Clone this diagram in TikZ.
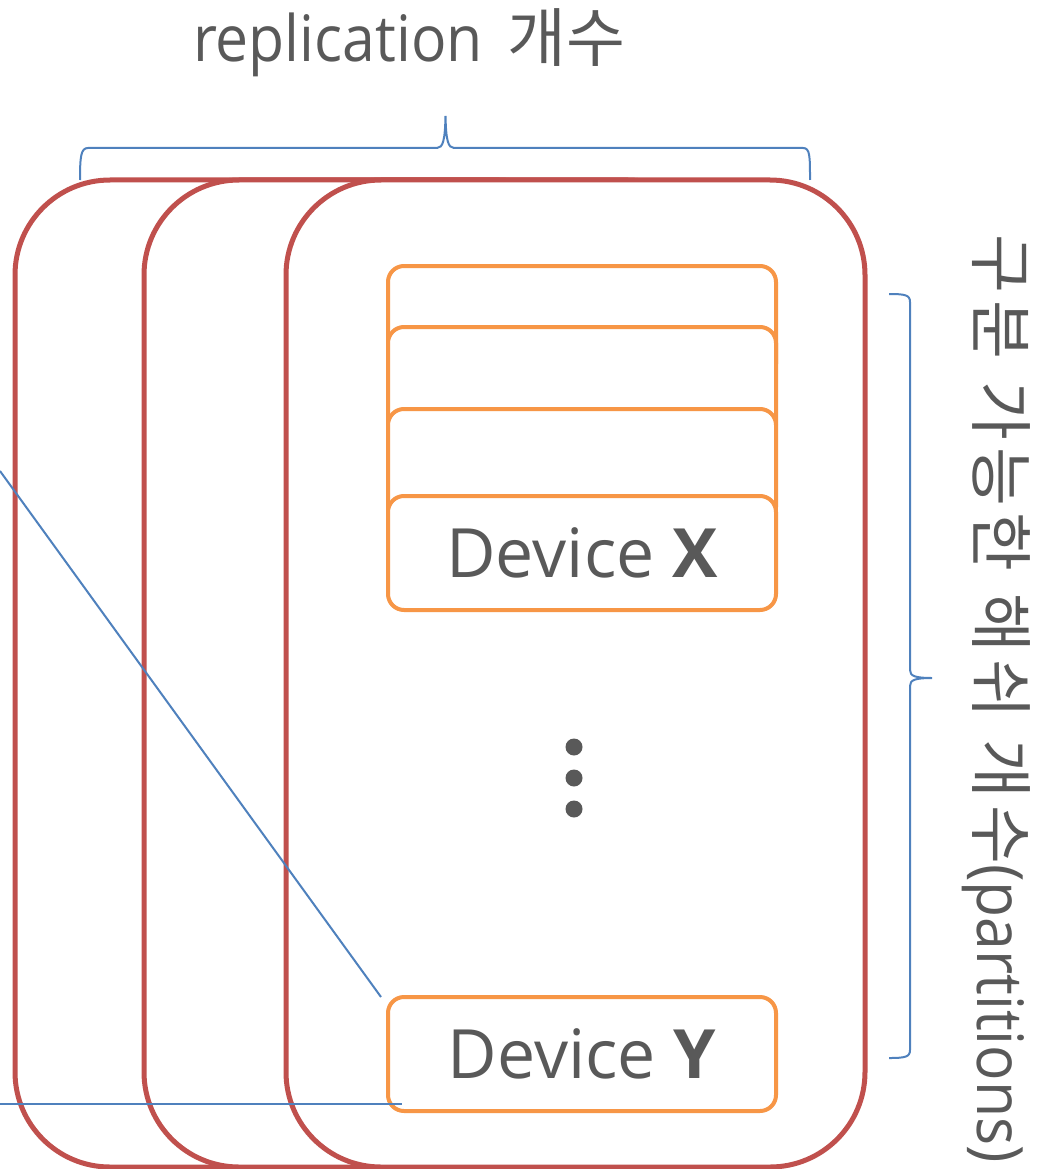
\documentclass[tikz,border=0pt]{standalone}
\usepackage{fontspec}
\setmainfont{Open Sans}
\newfontfamily\narrowsans{Open Sans}[FakeStretch=0.92]
\newfontfamily\kr{Noto Sans CJK KR}
\newfontfamily\krwide{Noto Sans CJK KR}[LetterSpace=11]
\definecolor{repred}{HTML}{C0504D}
\definecolor{devorange}{HTML}{F79646}
\definecolor{linkblue}{HTML}{4F81BD}
\definecolor{labelgray}{HTML}{595959}
\tikzset{
  replica/.style={draw=repred, line width=5pt, fill=white, rounded corners=95pt,
    minimum width=579pt, minimum height=987pt, inner sep=0pt, outer sep=0pt,
    anchor=north west},
  devbox/.style={draw=devorange, line width=4pt, fill=white, rounded corners=16pt,
    minimum width=388pt, minimum height=114pt, inner sep=0pt, outer sep=0pt,
    anchor=north west, text=labelgray, font=\fontsize{68}{80}\selectfont},
  brace/.style={draw=linkblue, line width=2pt},
  link/.style={draw=linkblue, line width=2pt},
  vdot/.style={circle, fill=labelgray, minimum size=17pt, inner sep=0pt},
  caption/.style={text=labelgray, font=\fontsize{64}{72}\selectfont\narrowsans, inner sep=0pt}
}
\begin{document}
\begin{tikzpicture}[x=1pt, y=-1pt]
\useasboundingbox (0,0) rectangle (1052,1169);

% replica frames, back to front
\node[replica] (rep1) at (15,180) {};
\node[replica] (rep2) at (144,180) {};
\node[replica] (rep3) at (286,180) {};

% stacked device cards
\node[devbox] (dev1) at (388,266) {};
\node[devbox] (dev2) at (388,327) {};
\node[devbox] (dev3) at (388,409) {};
\node[devbox] (devX) at (388,496) {Device \textbf{X}};
\node[devbox] (devY) at (388,997) {Device \textbf{Y}};

% vertical ellipsis
\node[vdot] (d1) at (574,747) {};
\node[vdot] (d2) at (574,778) {};
\node[vdot] (d3) at (574,809) {};

% labels
\node[caption, anchor=base] (reptitle) at (409,62) {replication\hspace{9pt} {\kr 개수}};
\node[caption, rotate=-90] (parttitle) at (996,699) {{\krwide 구분 가능한 해쉬 개수}(partitions)};

% braces
\draw[brace] (80,180) .. controls (80,156) and (81,148) .. (88,148) -- (437,148)
  .. controls (443,148) and (445,140) .. (445.5,116)
  .. controls (446,140) and (448,148) .. (454,148) -- (803,148)
  .. controls (810,148) and (810,156) .. (810,180);
\draw[brace] (889,294) .. controls (905,294) and (910,295) .. (910,302) -- (910,670)
  .. controls (910,676) and (915,678) .. (932,678)
  .. controls (915,678) and (910,680) .. (910,686) -- (910,1050)
  .. controls (910,1057) and (905,1058) .. (889,1058);

% incoming links
\coordinate (diagsrc) at (0,471);
\coordinate (flatsrc) at (0,1104);
\draw[link] (diagsrc) -- ([xshift=-7pt]devY.north west);
\draw[link] (flatsrc) -- ([xshift=14pt, yshift=7pt]devY.south west);
\end{tikzpicture}
\end{document}
